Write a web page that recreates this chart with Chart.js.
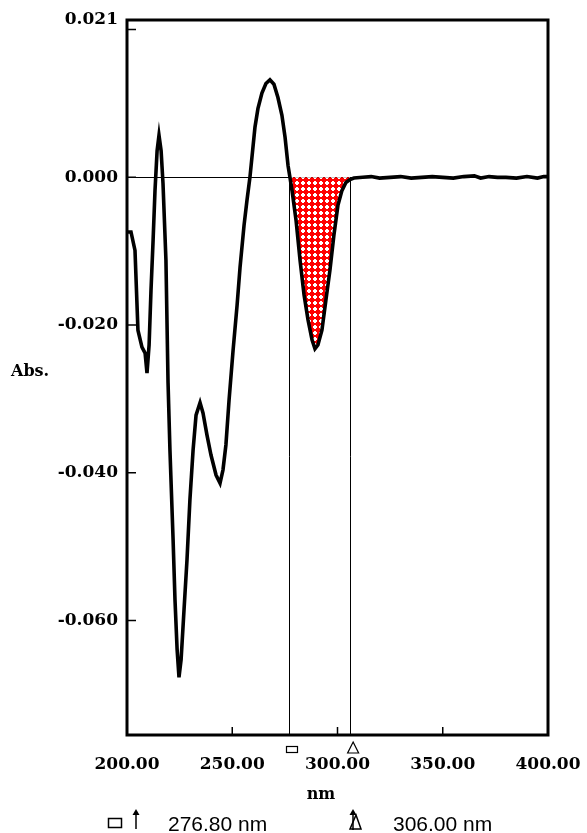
<!DOCTYPE html>
<html>
<head>
<meta charset="utf-8">
<script src="https://cdn.jsdelivr.net/npm/chart.js@4/dist/chart.umd.min.js"></script>
<style>
html,body{margin:0;padding:0;background:#fff;}
canvas{display:block;}
</style>
</head>
<body>
<canvas id="c" width="587" height="833"></canvas>
<script>
// ---- data ----
const wavelength = [200.0,201.9,203.8,205.2,207.1,208.6,209.5,210.5,211.4,212.4,213.3,214.3,215.2,216.2,217.1,218.5,219.5,220.4,221.9,222.8,223.8,224.7,225.7,227.1,228.5,229.9,231.4,232.8,234.7,236.1,238.0,239.9,242.3,244.2,245.6,247.0,248.5,250.4,252.3,253.7,255.6,257.0,258.4,260.8,262.2,264.1,266.0,267.9,269.8,271.7,273.6,275.1,276.5,277.4,278.4,280.3,282.2,284.1,286.0,287.9,289.3,290.7,292.6,294.5,296.4,298.3,300.2,302.1,304.0,305.9,307.8,312,316,320,325,330,335,340,345,350,355,360,365,368,372,376,380,385,390,395,398,400];
const absorbance = [-0.0074,-0.0074,-0.0099,-0.0207,-0.0230,-0.0238,-0.0265,-0.0227,-0.0153,-0.0085,-0.0018,0.0036,0.0057,0.0036,-0.0008,-0.0112,-0.0278,-0.0369,-0.0491,-0.0572,-0.0639,-0.0677,-0.0653,-0.0585,-0.0518,-0.0436,-0.0369,-0.0322,-0.0305,-0.0319,-0.0349,-0.0376,-0.0403,-0.0414,-0.0396,-0.0362,-0.0301,-0.0234,-0.0173,-0.0122,-0.0065,-0.0031,0.0000,0.0068,0.0093,0.0114,0.0127,0.0132,0.0126,0.0108,0.0084,0.0054,0.0016,0.0000,-0.0018,-0.0058,-0.0112,-0.0159,-0.0193,-0.0220,-0.0232,-0.0227,-0.0207,-0.0166,-0.0126,-0.0078,-0.0038,-0.0018,-0.0007,-0.0003,-0.0001,0.0000,0.0001,-0.0001,0.0000,0.0001,-0.0001,0.0000,0.0001,0.0000,-0.0001,0.0001,0.0002,-0.0001,0.0001,0.0000,0.0000,-0.0001,0.0001,-0.0001,0.0001,0.0001];
const xTickValues = [200, 250, 300, 350, 400];
const yTickValues = [-0.06, -0.04, -0.02, 0, 0.02];
const yTopLabel = "0.021";
const markers = [276.8, 306.0];
const markerLabels = ["276.80 nm", "306.00 nm"];
const xTitle = "nm";
const yTitle = "Abs.";

const X_MIN = 200, X_MAX = 400, Y_MIN = -0.0755, Y_MAX = 0.0213;

// build datasets from arrays
const linePts = wavelength.map((w, i) => ({x: w, y: absorbance[i]}));
const fillPts = linePts.filter(p => p.x >= markers[0] && p.x <= markers[1]);

// red cross-hatch pattern (white round cells in a red lattice)
function makePattern(ctx) {
  const t = document.createElement('canvas');
  t.width = 6; t.height = 6;
  const c = t.getContext('2d');
  c.fillStyle = '#ff0000';
  c.fillRect(0, 0, 6, 6);
  c.fillStyle = '#ffffff';
  c.fillRect(2, 1, 2, 4);
  c.fillRect(1, 2, 4, 2);
  return ctx.createPattern(t, 'repeat');
}

const axisFont = {family: '"DejaVu Serif", serif', size: 17, weight: 'bold'};

const decor = {
  id: 'decor',
  beforeDatasetsDraw(chart) {
    const {ctx, chartArea: a, scales: {x, y}} = chart;
    ctx.save();
    ctx.strokeStyle = '#000';
    ctx.lineWidth = 1;
    const y0 = Math.round(y.getPixelForValue(0)) + 0.5;
    ctx.beginPath();
    ctx.moveTo(a.left, y0); ctx.lineTo(a.right, y0);
    markers.forEach(m => {
      const px = Math.round(x.getPixelForValue(m)) + 0.5;
      ctx.moveTo(px, y0); ctx.lineTo(px, a.bottom);
    });
    ctx.stroke();
    ctx.restore();
  },
  afterDraw(chart) {
    const {ctx, chartArea: a, scales: {x, y}} = chart;
    ctx.save();
    ctx.strokeStyle = '#000';
    ctx.fillStyle = '#000';
    // box
    ctx.lineWidth = 3;
    ctx.strokeRect(a.left, a.top, a.right - a.left, a.bottom - a.top);
    // inward ticks
    ctx.lineWidth = 1.5;
    ctx.beginPath();
    yTickValues.forEach(v => {
      const py = y.getPixelForValue(v);
      ctx.moveTo(a.left, py); ctx.lineTo(a.left + 9, py);
    });
    xTickValues.slice(1, -1).forEach(v => {
      const px = x.getPixelForValue(v);
      ctx.moveTo(px, a.bottom); ctx.lineTo(px, a.bottom - 8);
    });
    ctx.stroke();
    // marker symbols below axis
    ctx.lineWidth = 1.2;
    const m1 = x.getPixelForValue(markers[0]) + 2;
    ctx.strokeRect(Math.round(m1 - 5) + 0.5, 746.5, 11, 6);
    const m2 = x.getPixelForValue(markers[1]) + 3;
    ctx.beginPath();
    ctx.moveTo(m2, 742); ctx.lineTo(m2 + 5.5, 753); ctx.lineTo(m2 - 5.5, 753); ctx.closePath();
    ctx.stroke();
    // y title
    ctx.font = 'bold 16px "DejaVu Serif", serif';
    ctx.textBaseline = 'middle';
    ctx.textAlign = 'left';
    ctx.fillText(yTitle, 11, 372);
    // x title
    ctx.textAlign = 'center';
    ctx.fillText(xTitle, 321, 795);
    // legend at bottom
    ctx.lineWidth = 1.5;
    ctx.strokeRect(108.5, 818.5, 13, 9);
    ctx.beginPath();
    ctx.moveTo(136, 829); ctx.lineTo(136, 812);
    ctx.stroke();
    ctx.beginPath();
    ctx.moveTo(136, 809); ctx.lineTo(132.5, 815); ctx.lineTo(139.5, 815); ctx.closePath(); ctx.fill();
    // second symbol: arrow + triangle
    ctx.beginPath();
    ctx.moveTo(353, 830); ctx.lineTo(353, 812);
    ctx.stroke();
    ctx.beginPath();
    ctx.moveTo(353, 809); ctx.lineTo(349.5, 815); ctx.lineTo(356.5, 815); ctx.closePath(); ctx.fill();
    ctx.beginPath();
    ctx.moveTo(356, 815); ctx.lineTo(361, 829); ctx.lineTo(350, 829); ctx.closePath();
    ctx.stroke();
    ctx.font = '21px "Liberation Sans", Arial, sans-serif';
    ctx.textAlign = 'left';
    ctx.fillText(markerLabels[0], 168, 825);
    ctx.fillText(markerLabels[1], 393, 825);
    ctx.restore();
  }
};

const ctx = document.getElementById('c').getContext('2d');
new Chart(ctx, {
  type: 'line',
  data: {
    datasets: [
      {
        data: linePts,
        borderColor: '#000',
        borderWidth: 3.6,
        pointRadius: 0,
        fill: false,
        tension: 0
      },
      {
        data: fillPts,
        borderColor: '#ff0000',
        borderWidth: 1,
        backgroundColor: makePattern(ctx),
        pointRadius: 0,
        fill: {value: 0},
        tension: 0
      }
    ]
  },
  options: {
    responsive: false,
    animation: false,
    events: [],
    layout: {padding: {left: 0, right: 39, top: 20, bottom: 0}},
    plugins: {legend: {display: false}, tooltip: {enabled: false}, title: {display: false}},
    scales: {
      x: {
        type: 'linear',
        min: X_MIN, max: X_MAX,
        afterFit(s) { s.height = 98; s.paddingLeft = 0; s.paddingRight = 0; },
        afterBuildTicks(s) { s.ticks = xTickValues.map(v => ({value: v})); },
        grid: {display: false, drawTicks: false},
        border: {display: false},
        ticks: {
          autoSkip: false, maxRotation: 0, padding: 19,
          color: '#000', font: axisFont,
          callback: v => Number(v).toFixed(2)
        }
      },
      y: {
        type: 'linear',
        min: Y_MIN, max: Y_MAX,
        afterFit(s) { s.width = 127; s.paddingTop = 0; s.paddingBottom = 0; },
        afterBuildTicks(s) {
          s.ticks = yTickValues.map(v => ({value: v})).concat([{value: Y_MAX}]);
        },
        grid: {display: false, drawTicks: false},
        border: {display: false},
        ticks: {
          autoSkip: false, padding: 9,
          color: '#000', font: axisFont,
          callback: v => (v === Y_MAX ? yTopLabel : (v === 0.02 ? '' : Number(v).toFixed(3)))
        }
      }
    }
  },
  plugins: [decor]
});
</script>
</body>
</html>
